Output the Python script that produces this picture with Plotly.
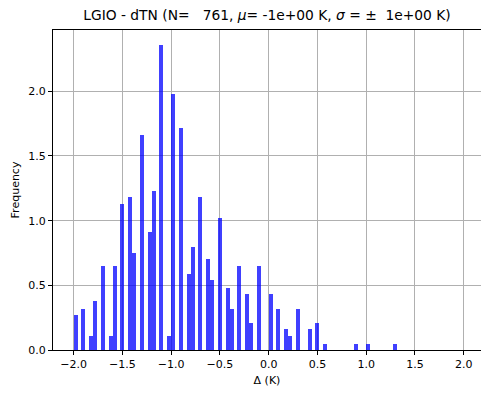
import plotly.graph_objects as go

bin_centers = [-1.98, -1.90, -1.82, -1.78, -1.70, -1.62, -1.58, -1.50, -1.42, -1.38,
               -1.30, -1.22, -1.18, -1.10, -1.02, -0.98, -0.90, -0.82, -0.78, -0.70,
               -0.62, -0.58, -0.50, -0.42, -0.38, -0.30, -0.22, -0.18, -0.10, 0.02,
               0.10, 0.18, 0.22, 0.30, 0.42, 0.50, 0.58, 0.90, 1.02, 1.30]
frequency = [0.27, 0.32, 0.11, 0.38, 0.65, 0.11, 0.65, 1.13, 1.18, 0.75,
             1.66, 0.91, 1.23, 2.36, 0.11, 1.98, 1.72, 0.59, 0.80, 1.18,
             0.70, 0.54, 1.02, 0.48, 0.32, 0.65, 0.43, 0.21, 0.65, 0.43,
             0.32, 0.16, 0.11, 0.32, 0.16, 0.21, 0.05, 0.05, 0.05, 0.05]
bin_width = 0.04
x_ticks = [-2.0, -1.5, -1.0, -0.5, 0.0, 0.5, 1.0, 1.5, 2.0]
y_ticks = [0.0, 0.5, 1.0, 1.5, 2.0]

title = ("LGIO - dTN (N=\u00a0\u00a0\u00a0761, <i>\u03bc</i>= -1e+00 K, "
         "<i>\u03c3</i> = \u00b1\u00a0\u00a01e+00 K)")

FONT = "DejaVu Sans"

fig = go.Figure()
fig.add_trace(go.Bar(
    x=bin_centers, y=frequency, width=bin_width,
    marker=dict(color="rgba(0,0,255,0.75)", line=dict(width=0)),
))

fig.update_layout(
    width=481, height=394,
    margin=dict(l=53, r=0, t=30, b=44),
    paper_bgcolor="white", plot_bgcolor="white",
    font=dict(family=FONT, size=11, color="black"),
    showlegend=False,
    bargap=0,
    title=dict(text=title, x=0.5, xref="paper", xanchor="center",
               y=1 - 15 / 394, yref="container", yanchor="middle",
               font=dict(family=FONT, size=13.8, color="black")),
    xaxis=dict(range=[-2.212, 2.178], tickvals=x_ticks, tickformat=".1f",
               showgrid=True, gridcolor="#b0b0b0", gridwidth=0.8,
               showline=True, linecolor="black", linewidth=1, mirror=True,
               ticks="outside", ticklen=4, tickcolor="black", zeroline=False,
               title=dict(text="\u0394 (K)", font=dict(size=11), standoff=6)),
    yaxis=dict(range=[0, 2.474], tickvals=y_ticks, tickformat=".1f",
               showgrid=True, gridcolor="#b0b0b0", gridwidth=0.8,
               showline=True, linecolor="black", linewidth=1,
               ticks="outside", ticklen=4, tickcolor="black", zeroline=False,
               title=dict(text="Frequency", font=dict(size=11), standoff=6)),
)

fig.write_html("out.html")
